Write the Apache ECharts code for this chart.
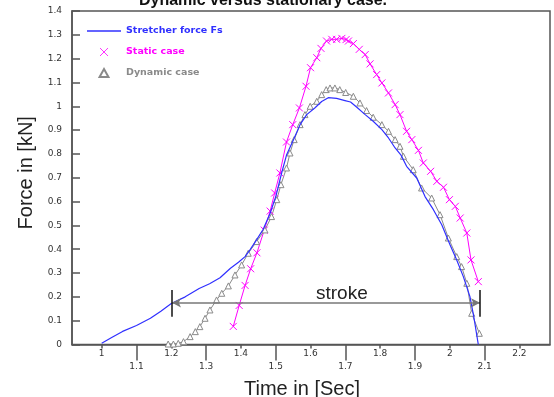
<!DOCTYPE html>
<html>
<head>
<meta charset="utf-8">
<script src="https://cdn.jsdelivr.net/npm/echarts@6/dist/echarts.min.js"></script>
<style>html,body{margin:0;padding:0;background:#fff}#c{width:554px;height:397px}</style>
</head>
<body>
<div id="c"></div>
<script>
// ---- data ----
const seriesNames = ['Stretcher force Fs', 'Static case', 'Dynamic case'];
const xTicksUpper = [1, 1.2, 1.4, 1.6, 1.8, 2, 2.2];
const xTicksLower = [1.1, 1.3, 1.5, 1.7, 1.9, 2.1];

const stretcherForce = [[1.0,0.005],[1.03,0.03],[1.06,0.055],[1.1,0.08],[1.14,0.11],[1.17,0.14],[1.2,0.172],[1.24,0.2],[1.28,0.235],[1.31,0.255],[1.34,0.28],[1.37,0.32],[1.393,0.345],[1.412,0.369],[1.426,0.397],[1.445,0.439],[1.464,0.484],[1.484,0.551],[1.5,0.62],[1.517,0.72],[1.531,0.795],[1.551,0.86],[1.57,0.923],[1.589,0.965],[1.613,0.994],[1.632,1.02],[1.651,1.036],[1.675,1.033],[1.699,1.024],[1.715,1.018],[1.733,0.996],[1.757,0.965],[1.78,0.937],[1.805,0.902],[1.824,0.867],[1.843,0.825],[1.86,0.795],[1.876,0.748],[1.905,0.699],[1.929,0.621],[1.953,0.566],[1.977,0.503],[2.001,0.418],[2.02,0.355],[2.039,0.285],[2.058,0.201],[2.069,0.117],[2.082,0.0]];

const staticCase = [[1.378,0.076],[1.395,0.164],[1.412,0.248],[1.428,0.318],[1.446,0.385],[1.467,0.48],[1.484,0.56],[1.497,0.636],[1.512,0.72],[1.531,0.85],[1.549,0.923],[1.568,0.993],[1.587,1.084],[1.6,1.162],[1.618,1.204],[1.63,1.243],[1.646,1.274],[1.661,1.281],[1.675,1.281],[1.69,1.285],[1.702,1.28],[1.709,1.274],[1.723,1.263],[1.74,1.239],[1.757,1.217],[1.771,1.178],[1.79,1.133],[1.805,1.098],[1.824,1.056],[1.843,1.007],[1.857,0.965],[1.876,0.895],[1.891,0.86],[1.91,0.815],[1.924,0.762],[1.945,0.727],[1.963,0.685],[1.982,0.66],[1.999,0.608],[2.016,0.58],[2.03,0.531],[2.049,0.468],[2.061,0.355],[2.082,0.264]];

const dynamicCase = [[1.191,0.002],[1.206,0.002],[1.22,0.005],[1.235,0.012],[1.254,0.033],[1.269,0.054],[1.282,0.075],[1.297,0.11],[1.311,0.145],[1.33,0.187],[1.345,0.215],[1.364,0.246],[1.383,0.292],[1.402,0.334],[1.421,0.383],[1.445,0.432],[1.469,0.481],[1.488,0.537],[1.503,0.608],[1.515,0.671],[1.531,0.741],[1.541,0.804],[1.553,0.86],[1.57,0.923],[1.584,0.965],[1.599,1.0],[1.618,1.021],[1.632,1.049],[1.645,1.07],[1.656,1.077],[1.67,1.077],[1.684,1.07],[1.701,1.058],[1.723,1.042],[1.742,1.014],[1.761,0.982],[1.78,0.954],[1.805,0.923],[1.824,0.895],[1.843,0.86],[1.857,0.832],[1.867,0.79],[1.895,0.734],[1.919,0.657],[1.948,0.615],[1.972,0.545],[1.996,0.447],[2.02,0.369],[2.034,0.327],[2.049,0.257],[2.063,0.131],[2.085,0.047]];

// stroke annotation (data coordinates)
const strokeLabel = 'stroke';
const strokeFrom = 1.202;
const strokeTo = 2.087;
const strokeLevel = 0.175;
const strokeBarLow = 0.116;
const strokeBarHigh = 0.229;
const strokeTextAt = [1.69, 0.215];

// ---- chart ----
const BLUE = '#3030ff', MAG = '#ff00ff', GRAY = '#8a8a8a', AX = '#555';
const xMin = 0.9147, xMax = 2.288;
const chart = echarts.init(document.getElementById('c'), null, {renderer: 'canvas'});
const fmt = v => String(Math.round(v * 10) / 10);

chart.setOption({
  animation: false,
  backgroundColor: '#fff',
  title: {
    text: 'Dynamic versus stationary case.',
    left: 258, top: -12, textAlign: 'center',
    textStyle: {fontFamily: 'Liberation Sans, Arial', fontWeight: 'bold', fontSize: 16, color: '#111'}
  },
  legend: {
    orient: 'vertical', left: 82, top: 21,
    itemWidth: 34, itemHeight: 8, itemGap: 11,
    textStyle: {fontFamily: 'DejaVu Sans', fontSize: 9.5, fontWeight: 'bold'},
    data: [
      {name: seriesNames[0], icon: 'path://M0,0L34,0L34,1.4L0,1.4Z', itemStyle: {color: BLUE, borderWidth: 0}, textStyle: {color: BLUE}},
      {name: seriesNames[1], icon: 'path://M0,0L10,10M10,0L0,10', itemStyle: {color: MAG, borderColor: MAG, borderWidth: 0.8}, textStyle: {color: MAG}},
      {name: seriesNames[2], icon: 'path://M5,0L10,9L0,9Z', textStyle: {color: GRAY}}
    ]
  },
  grid: {left: 72, right: 4, top: 11, bottom: 52.5, containLabel: false, outerBoundsMode: 'none',
         show: true, borderColor: AX, borderWidth: 1.5, backgroundColor: 'transparent'},
  xAxis: [{
    type: 'value', min: xMin, max: xMax,
    name: 'Time in [Sec]', nameLocation: 'middle', nameGap: 35,
    nameTextStyle: {fontFamily: 'Liberation Sans, Arial', fontSize: 20, color: '#222', padding: [0, 18, 0, 0]},
    axisLine: {show: true, lineStyle: {color: AX, width: 1.5}},
    axisTick: {show: true, length: 4, customValues: xTicksUpper, lineStyle: {color: AX, width: 1.5}},
    axisLabel: {customValues: xTicksUpper, margin: 5, fontSize: 9, color: '#333', fontFamily: 'DejaVu Sans', formatter: fmt},
    splitLine: {show: false}
  }, {
    type: 'value', min: xMin, max: xMax, position: 'bottom',
    axisLine: {show: false},
    axisTick: {show: true, length: 16, customValues: xTicksLower, lineStyle: {color: AX, width: 1.5}},
    axisLabel: {customValues: xTicksLower, margin: 18, fontSize: 9, color: '#333', fontFamily: 'DejaVu Sans', formatter: fmt},
    splitLine: {show: false}
  }],
  yAxis: {
    type: 'value', min: 0, max: 1.4, interval: 0.1,
    name: 'Force in [kN]', nameLocation: 'middle', nameGap: 31,
    nameTextStyle: {fontFamily: 'Liberation Sans, Arial', fontSize: 20, color: '#222', padding: [0, 0, 0, 10]},
    axisLine: {show: true, lineStyle: {color: AX, width: 1.5}},
    axisTick: {show: true, inside: true, length: 8, lineStyle: {color: AX, width: 1.5}},
    axisLabel: {margin: 10, fontSize: 9, color: '#333', fontFamily: 'DejaVu Sans', formatter: fmt},
    splitLine: {show: false}
  },
  series: [{
    name: seriesNames[0], type: 'line', xAxisIndex: 0, data: stretcherForce,
    showSymbol: false, symbol: 'none', z: 3,
    lineStyle: {color: BLUE, width: 1.2}, itemStyle: {color: BLUE},
    markLine: {
      silent: true, animation: false,
      label: {show: false},
      emphasis: {disabled: true},
      data: [
        [{coord: [strokeFrom, strokeLevel], symbol: 'arrow', symbolSize: [7, 9]},
         {coord: [strokeTo, strokeLevel], symbol: 'arrow', symbolSize: [7, 9]}],
        [{coord: [strokeFrom, strokeBarLow], symbol: 'none', lineStyle: {color: '#111', width: 1.5, type: 'solid'}},
         {coord: [strokeFrom, strokeBarHigh], symbol: 'none'}],
        [{coord: [strokeTo, strokeBarLow], symbol: 'none', lineStyle: {color: '#111', width: 1.5, type: 'solid'}},
         {coord: [strokeTo, strokeBarHigh], symbol: 'none'}]
      ],
      lineStyle: {color: '#777', width: 1.5, type: 'solid'},
      itemStyle: {color: '#111'}
    },
    markPoint: {
      silent: true, symbol: 'circle', symbolSize: 0,
      data: [{coord: strokeTextAt, value: strokeLabel}],
      label: {show: true, position: 'inside', formatter: strokeLabel, fontFamily: 'Liberation Sans, Arial', fontSize: 19, color: '#222'}
    }
  }, {
    name: seriesNames[1], type: 'line', xAxisIndex: 0, data: staticCase,
    symbol: 'path://M0,0L10,10M10,0L0,10', symbolSize: 7, showAllSymbol: true, z: 2,
    lineStyle: {color: MAG, width: 1},
    itemStyle: {color: MAG, borderColor: MAG, borderWidth: 1}
  }, {
    name: seriesNames[2], type: 'line', xAxisIndex: 0, data: dynamicCase,
    symbol: 'triangle', symbolSize: 6, showAllSymbol: true, z: 2,
    lineStyle: {color: GRAY, width: 1},
    itemStyle: {color: '#fff', borderColor: GRAY, borderWidth: 1}
  }]
});
</script>
</body>
</html>
